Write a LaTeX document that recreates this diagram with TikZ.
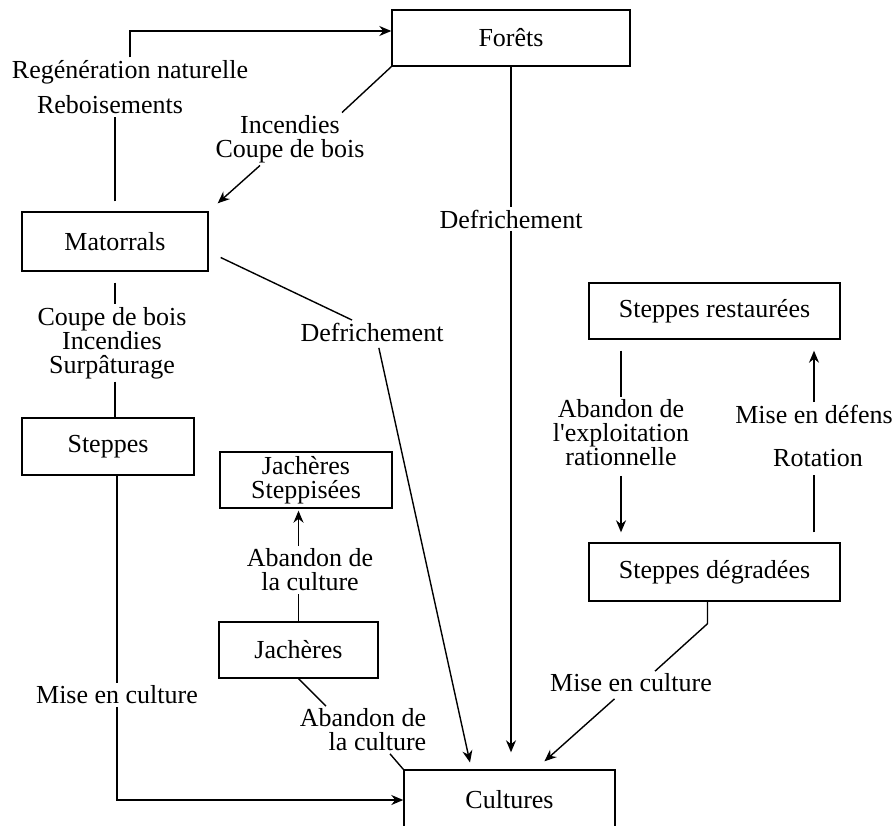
\documentclass[tikz,border=0pt]{standalone}
\usepackage{fontspec}
\setmainfont{Liberation Serif}
\usetikzlibrary{arrows.meta}

\begin{document}
\begin{tikzpicture}[x=1pt, y=-1pt, line width=1.4pt,
  box/.style={draw, inner sep=0pt, minimum height=56pt, font=\fontsize{26}{24}\selectfont},
  lab/.style={inner sep=2pt, align=center, font=\fontsize{26}{24}\selectfont},
  arr/.style={-{Stealth[length=12pt,width=10pt]}}]
\useasboundingbox (0,0) rectangle (894,825);
% Boxes
\node[box, minimum width=238pt] (forets) at (511,38) {Forêts};
\node[box, minimum width=186pt, minimum height=59pt] (matorrals) at (115,241.5) {Matorrals};
\node[box, minimum width=172pt, minimum height=57pt] (steppes) at (108,446.5) {Steppes};
\node[box, minimum width=172pt, align=center] (jachst) at (306,480) {Jachères\\Steppisées};
\node[box, minimum width=159pt] (jach) at (298.5,650) {Jachères};
\node[box, minimum width=251pt] (strest) at (714.5,311) {Steppes restaurées};
\node[box, minimum width=251pt, minimum height=58pt] (stdeg) at (714.5,572) {Steppes dégradées};
\node[box, minimum width=211pt, minimum height=60pt] (cultures) at (509.5,800) {Cultures};
% Labels
\node[lab] (regen) at (130,72) {Regénération naturelle};
\node[lab] (rebois) at (110,105) {Reboisements};
\node[lab] (incend) at (290,139) {Incendies\\Coupe de bois};
\node[lab] (defr1) at (511,219) {Defrichement};
\node[lab] (defr2) at (372,332) {Defrichement};
\node[lab] (coupe) at (112,343) {Coupe de bois\\Incendies\\Surpâturage};
\node[lab] (misec1) at (117,695) {Mise en culture};
\node[lab] (aband1) at (310,570) {Abandon de\\la culture};
\node[lab, align=right] (aband2) at (363,730) {Abandon de\\la culture};
\node[lab] (abexp) at (621,433) {Abandon de\\l\textquotesingle exploitation\\rationnelle};
\node[lab] (defens) at (814,414) {Mise en défens};
\node[lab] (rotation) at (818,458) {Rotation};
\node[lab] (misec2) at (631,683) {Mise en culture};
% Regeneration back to forets
\draw[arr] (regen.north) |- ([yshift=7pt]forets.west);
\draw[shorten <=10pt] (matorrals.north) -- (matorrals.north |- rebois.south);
% Fires and cutting
\draw (forets.south west) -- ([xshift=52pt]incend.north);
\draw[arr, shorten >=12pt] ([xshift=-30pt]incend.south) -- (matorrals.north east);
% Clearing
\draw (forets.south) -- (defr1.north);
\draw[arr, shorten >=17pt] (defr1.south) -- (defr1.south |- cultures.north);
\draw ([xshift=12pt,yshift=-16pt]matorrals.east) -- ([xshift=-20pt]defr2.north);
\draw[arr, shorten <=4pt, shorten >=7pt] ([xshift=6pt]defr2.south) -- ([xshift=-38pt]cultures.north);
% Matorrals to steppes
\draw[shorten <=11pt] (matorrals.south) -- (matorrals.south |- coupe.north);
\draw (matorrals.south |- coupe.south) -- (matorrals.south |- steppes.north);
% Steppes to cultures
\draw (misec1.north |- steppes.south) -- (misec1.north);
\draw[arr] (misec1.south) |- (cultures.west);
% Fallow
\draw (jach.north) -- (jach.north |- aband1.south);
\draw[arr, shorten >=2pt] (jach.north |- aband1.north) -- (jach.north |- jachst.south);
\draw (jach.south) -- ([xshift=-37pt]aband2.north);
\draw ([xshift=27pt]aband2.south) -- (cultures.north west);
% Restored and degraded steppes
\draw[shorten <=11pt] (abexp.north |- strest.south) -- (abexp.north);
\draw[arr, shorten <=7pt, shorten >=10pt] (abexp.south) -- (abexp.south |- stdeg.north);
\draw[shorten <=10pt, shorten >=6pt] (defens.north |- stdeg.north) -- (defens.north |- rotation.south);
\draw[arr, shorten >=11pt] (defens.north) -- (defens.north |- strest.south);
% Degraded steppes to cultures
\draw ([xshift=-7pt]stdeg.south) -- ++(0,22) -- ([xshift=24pt]misec2.north);
\draw[arr, shorten <=6pt, shorten >=12pt] ([xshift=-12pt]misec2.south) -- ([xshift=26pt]cultures.north);
\end{tikzpicture}
\end{document}
